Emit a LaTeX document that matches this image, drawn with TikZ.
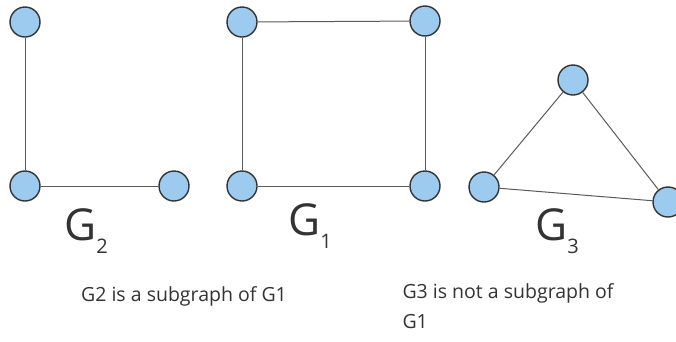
\documentclass[tikz,border=0pt]{standalone}
\usepackage{fontspec}
\setmainfont{Open Sans}
\usepackage{tikz}
\usetikzlibrary{shapes,arrows}
\definecolor{nodeblue}{HTML}{9DCBF0}
\definecolor{edgegray}{HTML}{5A5A5A}
\definecolor{inkgray}{HTML}{333333}
\tikzstyle{vertex} = [draw=inkgray, line width=1.4pt, circle, fill=nodeblue, minimum size=30pt, inner sep=0pt]
\tikzstyle{edge} = [draw=edgegray, line width=1pt]
\tikzstyle{biglabel} = [text=inkgray, font=\fontsize{44}{44}\selectfont]
\tikzstyle{note} = [text=inkgray, font=\fontsize{19.5}{30}\selectfont, align=left]

\begin{document}
\begin{tikzpicture}[x=1pt, y=-1pt]
        % Bounding box
        \useasboundingbox (0,0) rectangle (676,341);

        % Nodes
        % G2
        \node[vertex] (atop)   at (25,22)   {};
        \node[vertex] (abot)   at (25,186)  {};
        \node[vertex] (aright) at (174,186) {};
        % G1
        \node[vertex] (btl) at (242,22)  {};
        \node[vertex] (bbl) at (242,186) {};
        \node[vertex] (btr) at (425,21)  {};
        \node[vertex] (bbr) at (425,186) {};
        % G3
        \node[vertex] (ctop)   at (573,80)  {};
        \node[vertex] (cleft)  at (484,187) {};
        \node[vertex] (cright) at (668,202) {};

        % Edges
        \draw[edge] (atop) -- (abot);          % G2
        \draw[edge] (abot) -- (aright);
        \draw[edge] (btl) -- (btr);            % G1
        \draw[edge] (btl) -- (bbl);
        \draw[edge] (btr) -- (bbr);
        \draw[edge] (bbl) -- (bbr);
        \draw[edge] (cleft) -- (ctop);         % G3
        \draw[edge] (ctop) -- (cright);
        \draw[edge] (cleft) -- (cright);

        % Labels
        \node[biglabel] (lab2) at (86,231)  {G\raisebox{-0.3em}{\fontsize{20}{20}\selectfont 2}};
        \node[biglabel] (lab1) at (310,226) {G\raisebox{-0.3em}{\fontsize{20}{20}\selectfont 1}};
        \node[biglabel] (lab3) at (557,231) {G\raisebox{-0.3em}{\fontsize{20}{20}\selectfont 3}};

        % Captions
        \node[note] (cap1) at (184,296) {G2 is a subgraph of G1};
        \node[note, anchor=north west] (cap3) at (399,280) {G3 is not a subgraph of\\G1};

    \end{tikzpicture}
\end{document}
